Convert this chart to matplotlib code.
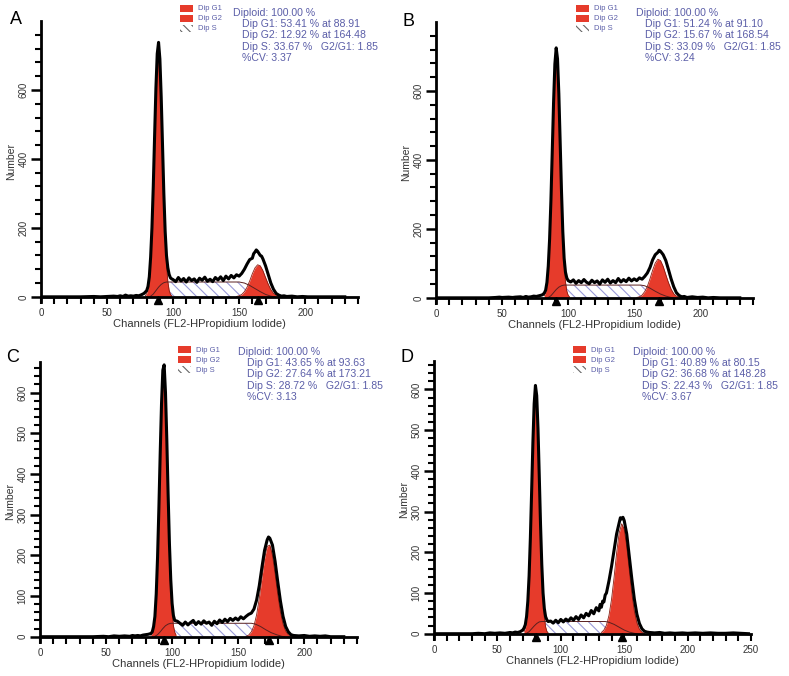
import numpy as np
import matplotlib
matplotlib.use("Agg")
import matplotlib.pyplot as plt
from matplotlib.patches import Rectangle
from matplotlib.ticker import FixedLocator

plt.rcParams['font.family'] = ['Liberation Sans', 'DejaVu Sans']
plt.rcParams['hatch.linewidth'] = 0.8

W, H = 789, 676
RED = '#e63b2b'
BLUE = '#5b5ea8'
HATCH = '#9a9ad8'

# ---------------- panel A ----------------
a_ch = [0, 10, 20, 30, 40, 45, 50, 55, 58, 60, 62, 64, 66, 68, 70, 72, 74, 76, 77, 78,
        79, 80, 81, 82, 83, 84, 85, 86, 87, 88, 89, 90, 91, 92, 93, 94, 95, 96, 97, 98, 99,
        100, 102, 104, 106, 108, 110, 112, 114, 116, 118, 120, 122, 124, 126, 128, 130,
        132, 134, 136, 138, 140, 142, 144, 146, 148, 150, 152, 154, 156, 158, 160, 161,
        162, 163, 164, 165, 166, 167, 168, 170, 172, 174, 176, 178, 180, 182, 184, 186,
        190, 194, 198, 202, 210, 220, 230]
a_ct = [0, 0, 0, 0, 1, 0, 1, 2, 1, 3, 1, 5, 2, 3, 2, 4, 3, 6, 8, 10,
        14, 18, 30, 58, 115, 200, 320, 465, 605, 705, 738, 690, 580, 440, 300, 190, 120, 85, 65, 55, 52,
        50, 44, 56, 46, 53, 43, 55, 47, 52, 42, 54, 48, 57, 45, 51, 44,
        56, 49, 58, 47, 60, 52, 62, 55, 64, 60, 68, 80, 95, 108, 112, 125,
        130, 136, 132, 126, 120, 118, 110, 90, 65, 40, 22, 10, 5, 2, 3, 1,
        2, 0, 1, 0, 0, 0, 0]
a_g1_ch = list(range(79, 100))
a_g1_ct = [3, 9, 23, 52, 106, 194, 315, 460, 601, 703, 735, 687, 575, 431, 289, 173, 93, 45, 19, 7, 3]
a_g2_ch = list(range(148, 184, 2))
a_g2_ct = [1, 3, 7, 15, 28, 46, 67, 84, 93, 90, 76, 56, 37, 21, 10, 5, 2, 0]
a_s_ch = [83, 85, 87, 89, 91, 93, 95, 150, 154, 158, 162, 166, 170, 174, 177]
a_s_ct = [2, 8, 18, 28, 36, 41, 43, 43, 40, 33, 24, 15, 7, 2, 0]
a_stats = ["Diploid: 100.00 %", "Dip G1: 53.41 % at 88.91", "Dip G2: 12.92 % at 164.48",
           "Dip S: 33.67 %   G2/G1: 1.85", "%CV: 3.37"]

# ---------------- panel B ----------------
b_ch = [0, 10, 20, 30, 40, 45, 48, 50, 55, 58, 60, 64, 66, 68, 70, 72, 74, 76, 78, 80, 81, 82,
        83, 84, 85, 86, 87, 88, 89, 90, 91, 92, 93, 94, 95, 96, 97, 98, 99, 100, 101,
        102, 104, 106, 108, 110, 112, 114, 116, 118, 120, 122, 124, 126, 128, 130, 132,
        134, 136, 138, 140, 142, 144, 146, 148, 150, 152, 154, 156, 158, 160, 162, 164,
        166, 168, 169, 170, 171, 172, 174, 176, 178, 180, 182, 184, 186, 188, 190, 194,
        198, 202, 206, 210, 215, 230]
b_ct = [0, 0, 0, 0, 0, 1, 2, 1, 2, 1, 2, 3, 1, 4, 2, 3, 5, 4, 6, 8, 10, 14,
        22, 45, 92, 170, 282, 422, 565, 678, 725, 693, 592, 452, 310, 192, 115, 75, 58, 50, 48,
        46, 52, 42, 50, 44, 53, 45, 41, 51, 44, 49, 40, 52, 45, 54, 43,
        50, 44, 56, 46, 53, 47, 57, 49, 55, 50, 58, 54, 62, 72, 88, 110,
        125, 132, 138, 135, 130, 125, 108, 82, 55, 32, 15, 7, 3, 4, 1, 3,
        1, 2, 0, 1, 0, 0]
b_g1_ch = list(range(82, 102))
b_g1_ct = [6, 17, 40, 85, 162, 274, 415, 559, 672, 719, 687, 585, 444, 300, 181, 97, 47, 20, 8, 3]
b_g2_ch = list(range(152, 188, 2))
b_g2_ct = [1, 3, 8, 18, 33, 55, 80, 101, 112, 108, 91, 67, 44, 25, 12, 5, 2, 0]
b_s_ch = [85, 87, 89, 91, 93, 95, 97, 155, 158, 162, 166, 170, 174, 178, 180]
b_s_ct = [1, 6, 15, 24, 31, 35, 37, 37, 35, 28, 19, 11, 5, 1, 0]
b_stats = ["Diploid: 100.00 %", "Dip G1: 51.24 % at 91.10", "Dip G2: 15.67 % at 168.54",
           "Dip S: 33.09 %   G2/G1: 1.85", "%CV: 3.24"]

# ---------------- panel C ----------------
c_ch = [0, 10, 20, 30, 40, 48, 52, 56, 60, 64, 68, 70, 72, 74, 76, 78, 80, 82, 84, 85,
        86, 87, 88, 89, 90, 91, 92, 93, 94, 95, 96, 97, 98, 99, 100, 101, 102,
        104, 106, 108, 110, 112, 114, 116, 118, 120, 122, 124, 126, 128, 130, 132, 134,
        136, 138, 140, 142, 144, 146, 148, 150, 152, 154, 156, 158, 160, 162, 164, 166,
        168, 170, 172, 173, 174, 176, 178, 180, 182, 184, 186, 188, 190, 192, 196, 200,
        204, 208, 212, 216, 220, 230]
c_ct = [0, 0, 0, 0, 0, 1, 0, 2, 1, 2, 1, 3, 2, 3, 2, 4, 5, 6, 8, 12,
        25, 50, 105, 195, 315, 450, 572, 655, 668, 600, 485, 350, 228, 140, 82, 52, 40,
        38, 33, 28, 36, 29, 35, 40, 30, 37, 31, 39, 33, 36, 28, 38, 32,
        41, 35, 43, 37, 45, 40, 46, 41, 49, 44, 50, 55, 58, 68, 90, 125,
        170, 212, 238, 245, 242, 225, 185, 135, 88, 50, 25, 12, 5, 3, 2, 3,
        1, 2, 1, 2, 0, 0]
c_g1_ch = list(range(84, 104))
c_g1_ct = [3, 9, 23, 52, 106, 193, 310, 445, 568, 646, 654, 589, 472, 337, 214, 121, 61, 27, 11, 4]
c_g2_ch = list(range(156, 194, 2))
c_g2_ct = [1, 4, 12, 27, 54, 94, 144, 192, 222, 225, 200, 154, 104, 61, 31, 14, 5, 2, 0]
c_s_ch = [87, 89, 91, 93, 95, 97, 99, 160, 163, 167, 171, 175, 179, 183, 185]
c_s_ct = [1, 5, 12, 20, 27, 31, 33, 33, 31, 25, 17, 10, 5, 1, 0]
c_stats = ["Diploid: 100.00 %", "Dip G1: 43.65 % at 93.63", "Dip G2: 27.64 % at 173.21",
           "Dip S: 28.72 %   G2/G1: 1.85", "%CV: 3.13"]

# ---------------- panel D ----------------
d_ch = [0, 10, 20, 30, 35, 40, 44, 48, 52, 56, 60, 62, 64, 66, 68, 69, 70,
        71, 72, 73, 74, 75, 76, 77, 78, 79, 80, 81, 82, 83, 84, 85, 86, 87, 88, 89, 90,
        92, 94, 96, 98, 100, 102, 104, 106, 108, 110, 112, 114, 116, 118, 120, 122, 124,
        126, 128, 130, 131, 132, 133, 134, 135, 136, 138, 140, 142, 144, 146, 147, 148,
        149, 150, 152, 154, 156, 158, 160, 162, 164, 166, 168, 170, 174, 178, 182, 186,
        190, 196, 200, 206, 212, 218, 224, 230, 236, 242, 248]
d_ct = [0, 0, 0, 0, 1, 0, 2, 1, 2, 1, 3, 2, 4, 3, 5, 7, 9,
        14, 22, 42, 80, 142, 235, 350, 470, 565, 610, 585, 505, 390, 270, 170, 100, 62, 42, 34, 30,
        31, 26, 33, 27, 35, 29, 36, 31, 39, 33, 42, 35, 46, 39, 50, 44, 57,
        49, 64, 56, 72, 65, 80, 78, 95, 100, 130, 165, 205, 245, 272, 285, 282,
        286, 278, 245, 190, 135, 85, 48, 25, 12, 6, 4, 3, 2, 3, 1, 2,
        1, 2, 1, 2, 1, 2, 1, 1, 2, 1, 0]
d_g1_ch = list(range(71, 91))
d_g1_ct = [5, 13, 31, 67, 129, 222, 338, 459, 556, 599, 575, 492, 375, 255, 154, 83, 40, 17, 6, 2]
d_g2_ch = list(range(132, 168, 2))
d_g2_ct = [3, 9, 21, 45, 84, 138, 198, 247, 270, 257, 214, 156, 99, 55, 27, 11, 4, 1]
d_s_ch = [73, 75, 77, 79, 81, 83, 85, 135, 138, 142, 146, 150, 154, 158, 160]
d_s_ct = [1, 5, 12, 19, 25, 29, 30, 30, 28, 23, 16, 9, 4, 1, 0]
d_stats = ["Diploid: 100.00 %", "Dip G1: 40.89 % at 80.15", "Dip G2: 36.68 % at 148.28",
           "Dip S: 22.43 %   G2/G1: 1.85", "%CV: 3.67"]

fig = plt.figure(figsize=(W / 100, H / 100), dpi=100)


def px_rect(left, top, right, bottom):
    return [left / W, 1 - bottom / H, (right - left) / W, (bottom - top) / H]


def draw_panel(rect, ch, ct, g1c, g1v, g2c, g2v, sc, sv, peaks, xmax, ymin, ymax,
               ymaj, ymin_step):
    ax = fig.add_axes(rect)
    # S phase hatched, then G1 / G2 red on top
    ax.fill_between(sc, sv, 0, facecolor='white', edgecolor=HATCH, hatch='\\\\\\', lw=0)
    ax.fill_between(g1c, g1v, 0, color=RED, lw=0)
    ax.fill_between(g2c, g2v, 0, color=RED, lw=0)
    ax.plot(g1c, g1v, color='#8a1d12', lw=0.6)
    ax.plot(g2c, g2v, color='#8a1d12', lw=0.6)
    ax.plot(sc, sv, color='#5a2020', lw=0.7)
    ax.plot(ch, ct, color='black', lw=2.2, solid_joinstyle='round')
    ax.plot(peaks, [ymin * 0.7] * 2, '^', color='black', ms=5.5, clip_on=False)

    ax.set_xlim(0, xmax)
    ax.set_ylim(ymin, ymax)
    for s in ['top', 'right']:
        ax.spines[s].set_visible(False)
    ax.spines['bottom'].set_position(('data', 0))
    ax.spines['bottom'].set_linewidth(2)
    ax.spines['left'].set_linewidth(2)
    ax.set_xticks(range(0, xmax + 1, 50))
    ax.xaxis.set_minor_locator(FixedLocator(range(0, xmax + 1, 10)))
    ax.set_yticks(range(0, 601, ymaj))
    ax.yaxis.set_minor_locator(FixedLocator(range(0, int(ymax) - 5, ymin_step)))
    ax.tick_params(axis='x', which='both', direction='out', length=5, width=1.5,
                   labelsize=7, labelcolor='#333333', pad=3)
    ax.tick_params(axis='y', which='major', direction='out', length=7, width=1.8,
                   labelsize=7, labelcolor='#333333', pad=2)
    ax.tick_params(axis='y', which='minor', direction='out', length=4, width=1.5)
    for lab in ax.get_yticklabels():
        lab.set_rotation(90)
        lab.set_va('center')
    ax.set_xlabel('Channels (FL2-HPropidium Iodide)', fontsize=8, color='#333333', labelpad=1)
    ax.set_ylabel('Number', fontsize=7.5, color='#333333', labelpad=2)
    return ax


def draw_text(letter, lx, ly, legx, legy, sx, sy, stats):
    fig.text(lx / W, 1 - ly / H, letter, fontsize=13, va='center', ha='left')
    for i, name in enumerate(['Dip G1', 'Dip G2', 'Dip S']):
        yy = legy + i * 10
        if i < 2:
            fig.patches.append(Rectangle((legx / W, 1 - (yy + 3) / H), 13 / W, 7 / H,
                                         transform=fig.transFigure, facecolor=RED,
                                         edgecolor='none'))
        else:
            fig.patches.append(Rectangle((legx / W, 1 - (yy + 3) / H), 13 / W, 7 / H,
                                         transform=fig.transFigure, facecolor='white',
                                         edgecolor='#666666', hatch='\\\\\\\\', lw=0))
        fig.text((legx + 18) / W, 1 - yy / H, name, fontsize=5.5, color=BLUE, va='center')
    for i, line in enumerate(stats):
        xx = sx if i == 0 else sx + 9
        fig.text(xx / W, 1 - (sy + i * 11.2) / H, line, fontsize=7.6, color=BLUE, va='center')


draw_panel(px_rect(41, 21, 358, 302), a_ch, a_ct, a_g1_ch, a_g1_ct, a_g2_ch, a_g2_ct,
           a_s_ch, a_s_ct, [88.91, 164.48], 240, -15, 800, 200, 40)
draw_panel(px_rect(436, 22, 753, 303), b_ch, b_ct, b_g1_ch, b_g1_ct, b_g2_ch, b_g2_ct,
           b_s_ch, b_s_ct, [91.10, 168.54], 240, -15, 800, 200, 40)
draw_panel(px_rect(40, 362, 357, 642), c_ch, c_ct, c_g1_ch, c_g1_ct, c_g2_ch, c_g2_ct,
           c_s_ch, c_s_ct, [93.63, 173.21], 240, -13, 675, 100, 20)
draw_panel(px_rect(434, 361, 751, 639), d_ch, d_ct, d_g1_ch, d_g1_ct, d_g2_ch, d_g2_ct,
           d_s_ch, d_s_ct, [80.15, 148.28], 250, -13, 670, 100, 20)

draw_text('A', 10, 20, 180, 9, 233, 13, a_stats)
draw_text('B', 402, 21, 576, 9, 636, 13, b_stats)
draw_text('C', 6, 357, 178, 350, 238, 352, c_stats)
draw_text('D', 400, 357, 573, 350, 633, 352, d_stats)

fig.savefig('out.png', dpi=100)
